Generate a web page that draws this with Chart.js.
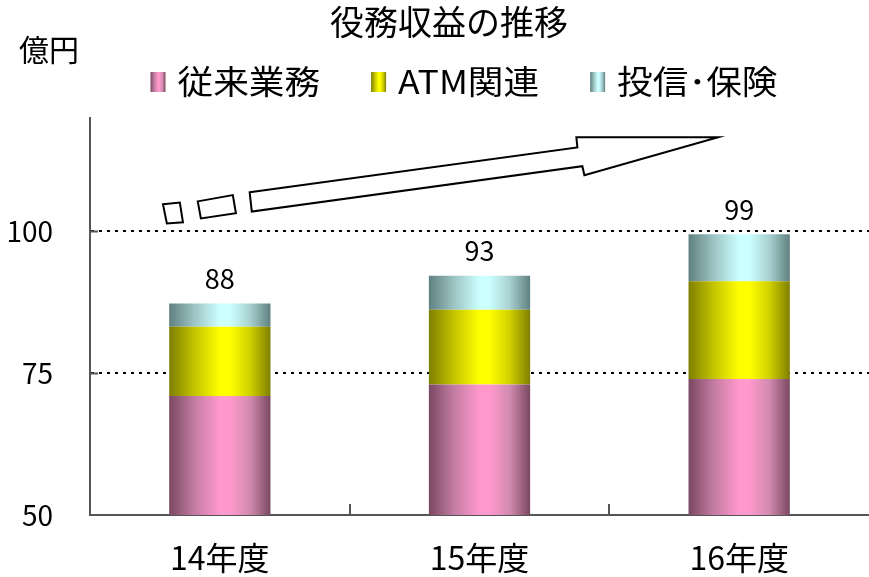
<!DOCTYPE html>
<html lang="ja">
<head>
<meta charset="utf-8">
<script src="https://cdn.jsdelivr.net/npm/chart.js@4.4.1/dist/chart.umd.min.js"></script>
<style>
  html, body { margin: 0; padding: 0; background: #fff; }
  #wrap { width: 869px; height: 577px; }
</style>
</head>
<body>
<div id="wrap"><canvas id="revenueChart"></canvas></div>
<script>
const categories = ['14年度', '15年度', '16年度'];
const seriesNames = ['従来業務', 'ATM関連', '投信･保険'];
const traditional = [71.0, 73.0, 74.0];
const atm = [12.2, 13.2, 17.2];
const fundsInsurance = [4.1, 6.0, 8.3];
const totalLabels = ['88', '93', '99'];
const yTicks = [50, 75, 100];
const chartTitle = '役務収益の推移';
const unitLabel = '億円';

// decorative arrow, in (category index, value) units
const arrowShape = [[0.115, 106.9], [1.377, 114.8], [1.373, 116.6], [1.919, 116.6], [1.404, 109.9], [1.396, 111.5], [0.123, 103.5]];
const dashBoxes = [
  [[-0.219, 104.8], [-0.154, 105.1], [-0.142, 101.6], [-0.204, 101.4]],
  [[-0.085, 105.3], [0.05, 106.4], [0.062, 103.2], [-0.073, 102.3]]
];

const JP = '"Noto Sans CJK JP", sans-serif';
const BAR_PCT = 0.39;
const stopPos = [0, 0.25, 0.5, 0.6, 0.8, 1];
const palettes = [
  ['#7a4862', '#c47ca3', '#ff99cc', '#ff99cc', '#d18aaf', '#7a4862'],
  ['#7f7f00', '#c4c400', '#ffff00', '#ffff00', '#d0d000', '#7f7f00'],
  ['#5f8080', '#9ec4c4', '#ccffff', '#ccffff', '#a8d0d0', '#5f8080']
];

function makeGradient(ctx, x0, x1, colors) {
  const g = ctx.createLinearGradient(x0, 0, x1, 0);
  colors.forEach((c, i) => g.addColorStop(stopPos[i], c));
  return g;
}

function barFill(k) {
  return function(c) {
    const chart = c.chart;
    const xs = chart.scales.x;
    if (!xs || !chart.chartArea || c.dataIndex === undefined) return palettes[k][2];
    const w = xs.width / categories.length * BAR_PCT;
    const cx = xs.getPixelForValue(c.dataIndex);
    return makeGradient(chart.ctx, cx - w / 2, cx + w / 2, palettes[k]);
  };
}

const extras = {
  id: 'extras',
  afterDraw(chart) {
    const {ctx, chartArea, scales: {x, y}} = chart;
    ctx.save();

    // inward tick marks
    ctx.strokeStyle = '#555';
    ctx.lineWidth = 2;
    ctx.beginPath();
    yTicks.slice(1).forEach(v => {
      const py = Math.round(y.getPixelForValue(v)) + 0.5;
      ctx.moveTo(chartArea.left, py);
      ctx.lineTo(chartArea.left + 8, py);
    });
    for (let i = 0; i < categories.length - 1; i++) {
      const px = Math.round((x.getPixelForValue(i) + x.getPixelForValue(i + 1)) / 2);
      ctx.moveTo(px, chartArea.bottom);
      ctx.lineTo(px, chartArea.bottom - 11);
    }
    ctx.stroke();

    // totals above bars
    ctx.fillStyle = '#000';
    ctx.font = '27px ' + JP;
    ctx.textAlign = 'center';
    ctx.textBaseline = 'middle';
    categories.forEach((c, i) => {
      const top = traditional[i] + atm[i] + fundsInsurance[i];
      ctx.fillText(totalLabels[i], x.getPixelForValue(i), y.getPixelForValue(top) - 25);
    });

    // arrow
    const toPx = p => [x.getPixelForValue(p[0]), y.getPixelForValue(p[1])];
    ctx.lineWidth = 2;
    ctx.strokeStyle = '#000';
    ctx.fillStyle = '#fff';
    ctx.lineJoin = 'miter';
    [arrowShape, ...dashBoxes].forEach(shape => {
      ctx.beginPath();
      shape.forEach((p, i) => {
        const [px, py] = toPx(p);
        if (i === 0) ctx.moveTo(px, py); else ctx.lineTo(px, py);
      });
      ctx.closePath();
      ctx.fill();
      ctx.stroke();
    });

    // title and unit
    ctx.fillStyle = '#000';
    ctx.font = '34px ' + JP;
    ctx.fillText(chartTitle, 449, 22);
    ctx.font = '30px ' + JP;
    ctx.textAlign = 'left';
    ctx.fillText(unitLabel, 19, 50);

    // legend (text slightly widened like the original typeface)
    ctx.font = '33px ' + JP;
    const stretch = 1.08;
    const boxW = 15, boxH = 20, gapText = 12, gapItem = 51, rowY = 81;
    const widths = seriesNames.map(s => boxW + gapText + ctx.measureText(s).width * stretch);
    const total = widths.reduce((a, b) => a + b, 0) + gapItem * (seriesNames.length - 1);
    let cx = 464 - total / 2;
    seriesNames.forEach((s, i) => {
      ctx.fillStyle = makeGradient(ctx, cx, cx + boxW, palettes[i]);
      ctx.fillRect(cx, rowY - boxH / 2 + 1, boxW, boxH);
      ctx.fillStyle = '#000';
      ctx.save();
      ctx.translate(cx + boxW + gapText, rowY);
      ctx.scale(stretch, 1);
      ctx.fillText(s, 0, 0);
      ctx.restore();
      cx += widths[i] + gapItem;
    });
    ctx.restore();
  }
};

const data = {
  labels: categories,
  datasets: [
    { label: seriesNames[0], data: traditional, backgroundColor: barFill(0) },
    { label: seriesNames[1], data: atm, backgroundColor: barFill(1) },
    { label: seriesNames[2], data: fundsInsurance, backgroundColor: barFill(2) }
  ].map(d => Object.assign(d, { borderWidth: 0, barPercentage: BAR_PCT, categoryPercentage: 1 }))
};

const config = {
  type: 'bar',
  data: data,
  options: {
    responsive: true,
    maintainAspectRatio: false,
    animation: false,
    devicePixelRatio: 1,
    layout: { padding: { left: 0, right: 0, top: 118, bottom: 0 } },
    plugins: {
      legend: { display: false },
      tooltip: { enabled: false },
      title: { display: false }
    },
    scales: {
      x: {
        stacked: true,
        grid: { display: false },
        border: { display: true, color: '#555', width: 2 },
        ticks: { color: '#000', font: { size: 32, family: JP }, padding: 16 },
        afterFit(scale) { scale.height = 62; }
      },
      y: {
        stacked: true,
        min: 50,
        max: 120,
        afterBuildTicks(scale) { scale.ticks = yTicks.map(v => ({ value: v })); },
        afterFit(scale) { scale.width = 90; },
        grid: {
          drawTicks: false,
          color: c => (c.tick && c.tick.value === 50) ? 'rgba(0,0,0,0)' : '#000',
          lineWidth: 2
        },
        border: { display: true, color: '#555', width: 2, dash: [3, 5] },
        ticks: { color: '#000', font: { size: 28, family: JP }, padding: 37 }
      }
    }
  },
  plugins: [extras]
};

new Chart(document.getElementById('revenueChart'), config);
</script>
</body>
</html>
